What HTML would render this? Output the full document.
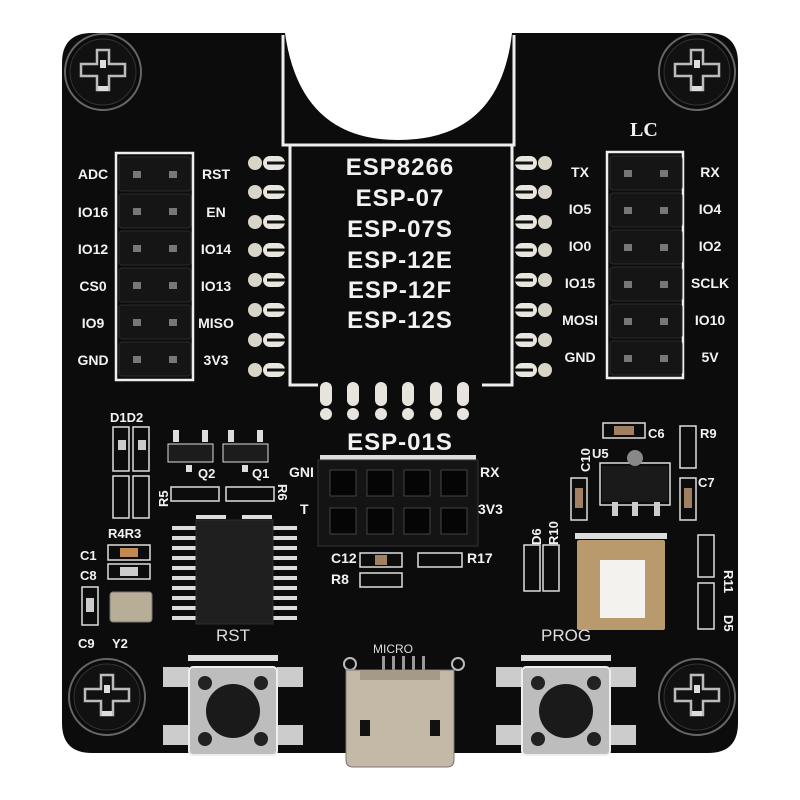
<!DOCTYPE html>
<html><head><meta charset="utf-8"><style>
html,body{margin:0;padding:0;background:#fff;}
svg{display:block;}
text{font-family:"Liberation Sans",sans-serif;fill:#f2f2f2;font-weight:bold;}
</style></head><body>
<svg width="800" height="800" viewBox="0 0 800 800" xmlns="http://www.w3.org/2000/svg">
<defs>
<g id="screw">
  <circle r="38" fill="#0b0b0b" stroke="#666" stroke-width="2"/>
  <circle r="33" fill="#111" stroke="#333" stroke-width="1"/>
  <path d="M-6,-22 h12 v14 h16 v12 h-16 v14 h-12 v-14 h-16 v-12 h16z" fill="none" stroke="#bbb" stroke-width="2.5"/>
  <rect x="-3" y="-12" width="6" height="8" fill="#ddd"/>
  <rect x="-5" y="14" width="10" height="5" fill="#ddd"/>
</g>
<g id="hdr">
  <rect x="0" y="0" width="72" height="34" rx="3" fill="#151515" stroke="#2a2a2a"/>
  <rect x="14" y="14" width="8" height="7" fill="#777"/>
  <rect x="50" y="14" width="8" height="7" fill="#777"/>
</g>
<g id="padL">
  <circle cx="0" cy="0" r="7" fill="#d8d4c8"/>
  <rect x="8" y="-7" width="22" height="14" rx="7" fill="#e8e6df"/>
  <rect x="12" y="-1.5" width="18" height="3" fill="#111"/>
</g>
<g id="padR">
  <circle cx="0" cy="0" r="7" fill="#d8d4c8"/>
  <rect x="-30" y="-7" width="22" height="14" rx="7" fill="#e8e6df"/>
  <rect x="-30" y="-1.5" width="18" height="3" fill="#111"/>
</g>
<g id="btn">
  <rect x="-70" y="-30" width="26" height="20" fill="#ccc"/>
  <rect x="44" y="-30" width="26" height="20" fill="#ccc"/>
  <rect x="-70" y="28" width="26" height="20" fill="#ccc"/>
  <rect x="44" y="28" width="26" height="20" fill="#ccc"/>
  <rect x="-45" y="-42" width="90" height="6" fill="#ddd"/>
  <rect x="-44" y="-30" width="88" height="88" rx="4" fill="#bdbdbd" stroke="#eee" stroke-width="2"/>
  <circle cx="0" cy="14" r="27" fill="#1a1a1a"/>
  <circle cx="-28" cy="-14" r="7" fill="#222"/>
  <circle cx="28" cy="-14" r="7" fill="#222"/>
  <circle cx="-28" cy="42" r="7" fill="#222"/>
  <circle cx="28" cy="42" r="7" fill="#222"/>
</g>
</defs>
<path d="M92,33 H285 V33 Q300,140 398,140 Q500,140 512,33 H708 Q738,33 738,63 V723 Q738,753 708,753 H92 Q62,753 62,723 V63 Q62,33 92,33Z" fill="#0c0c0c"/>
<path d="M283,35 V145 H514 V35" fill="none" stroke="#eee" stroke-width="3"/>
<path d="M290,145 V385 H318 M482,385 H512 V145" fill="none" stroke="#eee" stroke-width="3"/>
<use href="#screw" x="103" y="72"/>
<use href="#screw" x="697" y="72"/>
<use href="#screw" x="107" y="697"/>
<use href="#screw" x="697" y="697"/>
<g font-size="24" text-anchor="middle" style="letter-spacing:1px">
<text x="400" y="175">ESP8266</text>
<text x="400" y="206">ESP-07</text>
<text x="400" y="237">ESP-07S</text>
<text x="400" y="268">ESP-12E</text>
<text x="400" y="298">ESP-12F</text>
<text x="400" y="328">ESP-12S</text>
<text x="400" y="450">ESP-01S</text>
</g>
<text x="630" y="136" font-size="20" style="font-family:'Liberation Serif',serif">LC</text>
<g>
<use href="#padL" x="255" y="163"/><use href="#padL" x="255" y="192"/><use href="#padL" x="255" y="222"/><use href="#padL" x="255" y="250"/>
<use href="#padL" x="255" y="280"/><use href="#padL" x="255" y="310"/><use href="#padL" x="255" y="340"/><use href="#padL" x="255" y="370"/>
<use href="#padR" x="545" y="163"/><use href="#padR" x="545" y="192"/><use href="#padR" x="545" y="222"/><use href="#padR" x="545" y="250"/>
<use href="#padR" x="545" y="280"/><use href="#padR" x="545" y="310"/><use href="#padR" x="545" y="340"/><use href="#padR" x="545" y="370"/>
</g>
<g fill="#e6e4dc">
<rect x="320" y="382" width="12" height="24" rx="6"/><circle cx="326" cy="414" r="6"/>
<rect x="347" y="382" width="12" height="24" rx="6"/><circle cx="353" cy="414" r="6"/>
<rect x="375" y="382" width="12" height="24" rx="6"/><circle cx="381" cy="414" r="6"/>
<rect x="402" y="382" width="12" height="24" rx="6"/><circle cx="408" cy="414" r="6"/>
<rect x="430" y="382" width="12" height="24" rx="6"/><circle cx="436" cy="414" r="6"/>
<rect x="457" y="382" width="12" height="24" rx="6"/><circle cx="463" cy="414" r="6"/>
</g>
<rect x="116" y="153" width="77" height="227" fill="none" stroke="#eee" stroke-width="2.5"/>
<use href="#hdr" x="119" y="157"/><use href="#hdr" x="119" y="194"/><use href="#hdr" x="119" y="231"/>
<use href="#hdr" x="119" y="268"/><use href="#hdr" x="119" y="305"/><use href="#hdr" x="119" y="342"/>
<g font-size="14" text-anchor="middle">
<text x="93" y="179">ADC</text><text x="93" y="217">IO16</text><text x="93" y="254">IO12</text>
<text x="93" y="291">CS0</text><text x="93" y="328">IO9</text><text x="93" y="365">GND</text>
<text x="216" y="179">RST</text><text x="216" y="217">EN</text><text x="216" y="254">IO14</text>
<text x="216" y="291">IO13</text><text x="216" y="328">MISO</text><text x="216" y="365">3V3</text>
</g>
<rect x="607" y="152" width="76" height="226" fill="none" stroke="#eee" stroke-width="2.5"/>
<use href="#hdr" x="610" y="156"/><use href="#hdr" x="610" y="193"/><use href="#hdr" x="610" y="230"/>
<use href="#hdr" x="610" y="267"/><use href="#hdr" x="610" y="304"/><use href="#hdr" x="610" y="341"/>
<g font-size="14" text-anchor="middle">
<text x="580" y="177">TX</text><text x="580" y="214">IO5</text><text x="580" y="251">IO0</text>
<text x="580" y="288">IO15</text><text x="580" y="325">MOSI</text><text x="580" y="362">GND</text>
<text x="710" y="177">RX</text><text x="710" y="214">IO4</text><text x="710" y="251">IO2</text>
<text x="710" y="288">SCLK</text><text x="710" y="325">IO10</text><text x="710" y="362">5V</text>
</g>
<rect x="320" y="455" width="156" height="6" fill="#ddd"/>
<rect x="318" y="460" width="160" height="86" fill="#141414" stroke="#333"/>
<g fill="#050505" stroke="#444">
<rect x="330" y="470" width="26" height="26"/><rect x="367" y="470" width="26" height="26"/><rect x="404" y="470" width="26" height="26"/><rect x="441" y="470" width="26" height="26"/>
<rect x="330" y="508" width="26" height="26"/><rect x="367" y="508" width="26" height="26"/><rect x="404" y="508" width="26" height="26"/><rect x="441" y="508" width="26" height="26"/>
</g>
<g font-size="14">
<text x="289" y="477">GNI</text><text x="300" y="514">T</text>
<text x="480" y="477">RX</text><text x="478" y="514">3V3</text>
<text x="331" y="563">C12</text><text x="331" y="584">R8</text>
<text x="467" y="563">R17</text>
</g>
<rect x="360" y="553" width="42" height="14" fill="none" stroke="#ddd" stroke-width="1.5"/><rect x="375" y="555" width="12" height="10" fill="#a08060"/>
<rect x="360" y="573" width="42" height="14" fill="none" stroke="#ddd" stroke-width="1.5"/>
<rect x="418" y="553" width="44" height="14" fill="none" stroke="#ddd" stroke-width="1.5"/>
<g font-size="13">
<text x="110" y="422">D1D2</text>
<text x="108" y="538">R4R3</text>
<text x="80" y="560">C1</text><text x="80" y="580">C8</text>
<text x="78" y="648">C9</text><text x="112" y="648">Y2</text>
<text x="198" y="478">Q2</text><text x="252" y="478">Q1</text>
</g>
<g fill="none" stroke="#ddd" stroke-width="1.5">
<rect x="113" y="427" width="16" height="44"/><rect x="133" y="427" width="16" height="44"/>
<rect x="113" y="476" width="16" height="42"/><rect x="133" y="476" width="16" height="42"/>
<rect x="108" y="545" width="42" height="15"/><rect x="108" y="564" width="42" height="15"/>
<rect x="82" y="587" width="16" height="38"/>
<rect x="171" y="487" width="48" height="14"/><rect x="226" y="487" width="48" height="14"/>
</g>
<rect x="118" y="440" width="8" height="10" fill="#ccc"/><rect x="138" y="440" width="8" height="10" fill="#ccc"/>
<rect x="120" y="548" width="18" height="9" fill="#c08a50"/><rect x="120" y="567" width="18" height="9" fill="#ccc"/>
<rect x="86" y="598" width="8" height="14" fill="#ccc"/>
<rect x="110" y="592" width="42" height="30" rx="3" fill="#b8ad96" stroke="#777"/>
<text x="0" y="0" font-size="13" transform="translate(168,507) rotate(-90)">R5</text>
<text x="0" y="0" font-size="13" transform="translate(278,484) rotate(90)">R6</text>
<g fill="#ddd"><rect x="173" y="430" width="6" height="12"/><rect x="202" y="430" width="6" height="12"/><rect x="228" y="430" width="6" height="12"/><rect x="257" y="430" width="6" height="12"/>
<rect x="186" y="465" width="6" height="7"/><rect x="242" y="465" width="6" height="7"/></g>
<rect x="168" y="444" width="45" height="18" fill="#1c1c1c" stroke="#ddd" stroke-width="1"/>
<rect x="223" y="444" width="45" height="18" fill="#1c1c1c" stroke="#ddd" stroke-width="1"/>
<g fill="#ddd">
<rect x="172" y="526" width="24" height="4"/><rect x="172" y="536" width="24" height="4"/><rect x="172" y="546" width="24" height="4"/><rect x="172" y="556" width="24" height="4"/><rect x="172" y="566" width="24" height="4"/><rect x="172" y="576" width="24" height="4"/><rect x="172" y="586" width="24" height="4"/><rect x="172" y="596" width="24" height="4"/><rect x="172" y="606" width="24" height="4"/><rect x="172" y="616" width="24" height="4"/>
<rect x="273" y="526" width="24" height="4"/><rect x="273" y="536" width="24" height="4"/><rect x="273" y="546" width="24" height="4"/><rect x="273" y="556" width="24" height="4"/><rect x="273" y="566" width="24" height="4"/><rect x="273" y="576" width="24" height="4"/><rect x="273" y="586" width="24" height="4"/><rect x="273" y="596" width="24" height="4"/><rect x="273" y="606" width="24" height="4"/><rect x="273" y="616" width="24" height="4"/>
<rect x="196" y="515" width="30" height="4"/><rect x="242" y="515" width="30" height="4"/>
</g>
<rect x="196" y="520" width="77" height="104" fill="#1f1f1f" stroke="#2d2d2d"/>
<g font-size="13">
<text x="648" y="438">C6</text><text x="700" y="438">R9</text><text x="592" y="458">U5</text><text x="698" y="487">C7</text>
</g>
<text x="0" y="0" font-size="13" transform="translate(590,472) rotate(-90)">C10</text>
<text x="0" y="0" font-size="13" transform="translate(541,545) rotate(-90)">D6</text>
<text x="0" y="0" font-size="13" transform="translate(558,545) rotate(-90)">R10</text>
<text x="0" y="0" font-size="13" transform="translate(724,570) rotate(90)">R11</text>
<text x="0" y="0" font-size="13" transform="translate(724,615) rotate(90)">D5</text>
<g fill="none" stroke="#ddd" stroke-width="1.5">
<rect x="603" y="423" width="42" height="15"/><rect x="680" y="426" width="16" height="42"/>
<rect x="571" y="478" width="16" height="42"/><rect x="680" y="478" width="16" height="42"/>
<rect x="524" y="545" width="16" height="46"/><rect x="543" y="545" width="16" height="46"/>
<rect x="698" y="535" width="16" height="42"/><rect x="698" y="583" width="16" height="46"/>
<rect x="600" y="463" width="70" height="42"/>
</g>
<rect x="614" y="426" width="20" height="9" fill="#a08060"/>
<rect x="575" y="488" width="8" height="20" fill="#a08060"/><rect x="684" y="488" width="8" height="20" fill="#a08060"/>
<circle cx="635" cy="458" r="8" fill="#888"/>
<rect x="602" y="466" width="66" height="36" fill="#1a1a1a"/>
<g fill="#ccc"><rect x="612" y="502" width="6" height="14"/><rect x="632" y="502" width="6" height="14"/><rect x="654" y="502" width="6" height="14"/></g>
<rect x="575" y="533" width="92" height="6" fill="#ddd"/>
<rect x="577" y="540" width="88" height="90" rx="2" fill="#b99a6c"/>
<rect x="600" y="560" width="45" height="58" fill="#f4f2ee"/>
<g font-size="17">
<text x="216" y="641" style="font-weight:normal;fill:#ddd">RST</text>
<text x="541" y="641" style="font-weight:normal;fill:#ddd">PROG</text>
<text x="373" y="653" font-size="12" style="font-weight:normal;fill:#ddd">MICRO</text>
</g>
<use href="#btn" x="233" y="697"/>
<use href="#btn" x="566" y="697"/>
<circle cx="350" cy="664" r="6" fill="none" stroke="#bbb" stroke-width="2"/>
<circle cx="458" cy="664" r="6" fill="none" stroke="#bbb" stroke-width="2"/>
<g fill="#999"><rect x="382" y="656" width="3" height="14"/><rect x="392" y="656" width="3" height="14"/><rect x="402" y="656" width="3" height="14"/><rect x="412" y="656" width="3" height="14"/><rect x="422" y="656" width="3" height="14"/></g>
<path d="M346,670 H454 V760 Q454,767 447,767 H353 Q346,767 346,760Z" fill="#c4b9a6" stroke="#777"/>
<rect x="360" y="670" width="80" height="10" fill="#a59a88"/>
<rect x="360" y="720" width="10" height="16" fill="#111"/><rect x="430" y="720" width="10" height="16" fill="#111"/>
</svg>
</body></html>
